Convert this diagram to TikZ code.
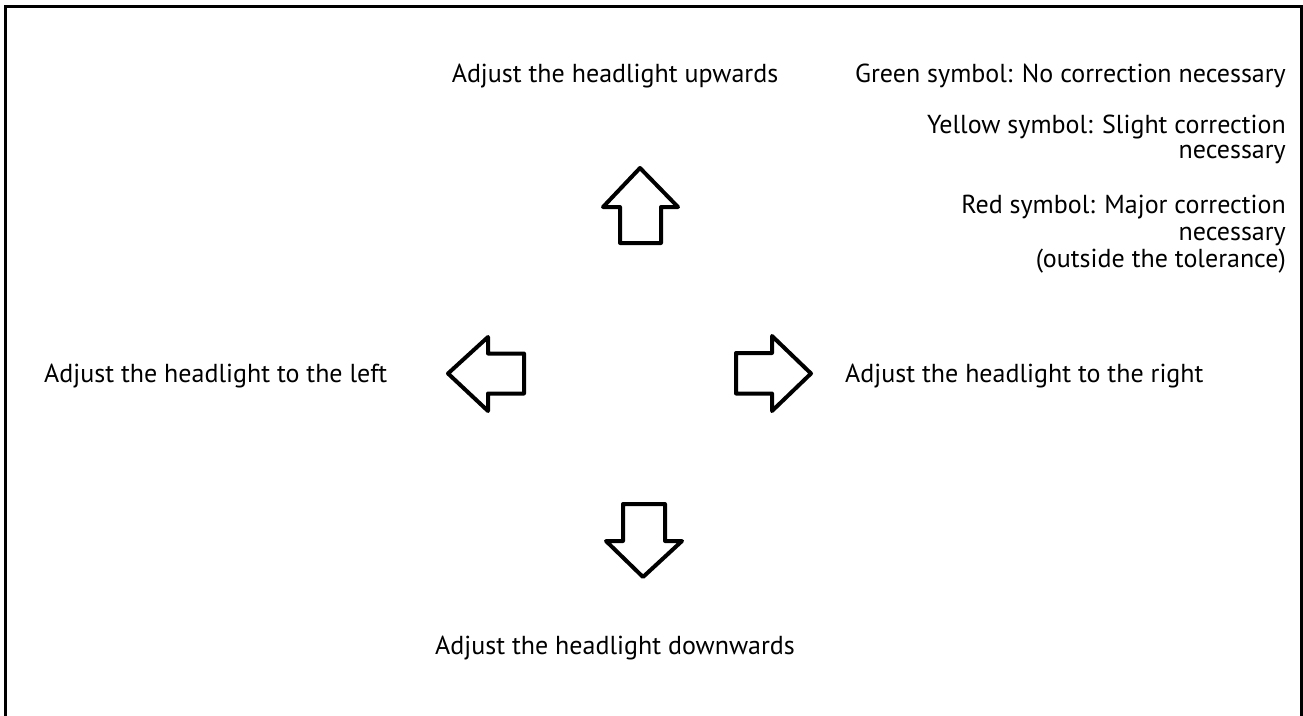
\documentclass[tikz,border=0pt]{standalone}
\usepackage{fontspec}
\setmainfont{PT Sans}
\begin{document}
\begin{tikzpicture}[x=1pt,y=-1pt,
  lbl/.style={inner sep=0pt,font=\fontsize{26}{25}\selectfont},
  rlbl/.style={lbl,anchor=base east},
  bigarrow/.style={draw=black,line width=4pt,line join=round,fill=white}]
\useasboundingbox (0,0) rectangle (1303,715);
\draw[line width=3pt] (5.5,730) -- (5.5,6.5) -- (1301,6.5) -- (1301,730);
% arrows
\draw[bigarrow] (640,168) -- (603,207) -- (620,207) -- (620,243) -- (661,243) -- (661,207) -- (678,207) -- cycle;
\draw[bigarrow] (448,373.5) -- (488,337) -- (488,353.5) -- (524,353.5) -- (524,393.5) -- (488,393.5) -- (488,411) -- cycle;
\draw[bigarrow] (811,373.5) -- (772,336) -- (772,353) -- (736,353) -- (736,393.5) -- (772,393.5) -- (772,411) -- cycle;
\draw[bigarrow] (643,577) -- (606,541) -- (623,541) -- (623,504) -- (665,504) -- (665,541) -- (682,541) -- cycle;
% labels
\node[lbl,anchor=base] (up) at (615,82) {Adjust the headlight upwards};
\node[lbl,anchor=base west] (left) at (44,382) {Adjust the headlight to the left};
\node[lbl,anchor=base west] (right) at (845,382) {Adjust the headlight to the right};
\node[lbl,anchor=base] (down) at (615,654) {Adjust the headlight downwards};
\node[rlbl] (green) at (1286,82) {Green symbol: No correction necessary};
\node[rlbl] (yellow1) at (1286,133) {Yellow symbol: Slight correction};
\node[rlbl] (yellow2) at (1286,158) {necessary};
\node[rlbl] (red1) at (1286,213) {Red symbol: Major correction};
\node[rlbl] (red2) at (1286,240) {necessary};
\node[rlbl] (red3) at (1286,267) {(outside the tolerance)};
\end{tikzpicture}
\end{document}
